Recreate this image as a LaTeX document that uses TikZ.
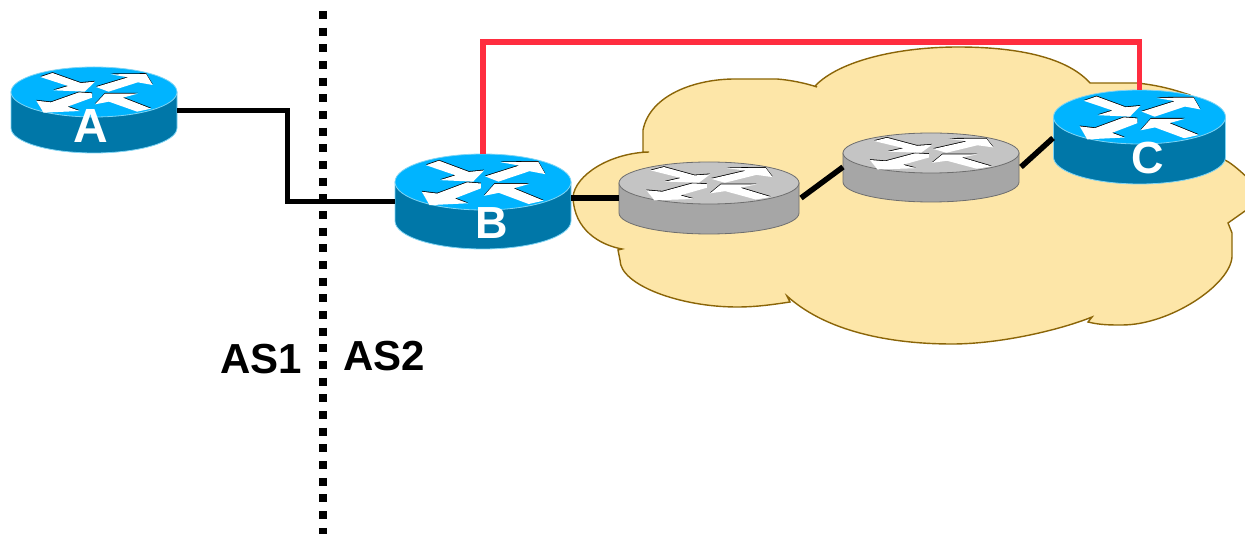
\documentclass[tikz,border=0pt]{standalone}
\usepackage{fontspec}
\setmainfont{Liberation Sans}
\definecolor{bluetop}{HTML}{00B4FF}
\definecolor{blueside}{HTML}{0077A8}
\definecolor{blueedge}{HTML}{7FD4F4}
\definecolor{graytop}{HTML}{C4C4C4}
\definecolor{grayside}{HTML}{A6A6A6}
\definecolor{grayedge}{HTML}{6E6E6E}
\definecolor{cloudfill}{HTML}{FDE6A8}
\definecolor{cloudline}{HTML}{8B6508}
\definecolor{redlink}{HTML}{FF2D3F}
\tikzset{
  routerbox/.style={inner sep=0pt,outer sep=0pt,rectangle},
  link/.style={black,line width=5.5pt},
  wanlink/.style={black,line width=5pt,line join=miter},
  ibgp/.style={redlink,line width=5.4pt,line join=miter},
  boundary/.style={black,line width=8pt,dash pattern=on 8pt off 8.67pt},
  cloudshape/.style={fill=cloudfill,draw=cloudline,line width=1.4pt},
  rlabel/.style={text=white,inner sep=0pt,font=\fontsize{45}{45}\selectfont\bfseries},
  aslabel/.style={text=black,inner sep=0pt,font=\fontsize{42}{42}\selectfont\bfseries}
}
\newcommand{\routerarrows}[1]{%
  \begin{scope}[xscale=.004,yscale=.013333,fill=#1]
    \fill (-162,-45) -- (-125,-57) -- (-40,-27) -- (3,-31) -- (-28,-1) -- (-122,-5) -- (-78,-18) -- cycle;
    \fill (6,-15) -- (103,-44) -- (50,-53) -- (157,-54) -- (177,-21) -- (132,-29) -- (44,-1) -- cycle;
    \fill (-6,4) -- (-45,1) -- (-130,31) -- (-174,26) -- (-152,62) -- (-43,57) -- (-80,44) -- (-6,17) -- cycle;
    \fill (3,37) -- (33,5) -- (132,5) -- (87,17) -- (172,50) -- (130,59) -- (45,29) -- cycle;
  \end{scope}}
% name, cx, cy, rx, ry, h, colour kind
\newcommand{\router}[7]{%
  \node[routerbox,minimum width={2*#4 pt},minimum height={2*#5 pt+#6 pt}] (#1) at (#2,#3+#6/2) {};
  \begin{scope}[shift={(#2,#3)},x=#4pt,y=-#5pt]
    \pgfmathsetmacro{\hh}{#6/#5}
    \filldraw[fill=#7side,draw=#7edge,line width=.8pt] (-1,0) -- (-1,\hh) arc[start angle=180,end angle=0,radius=1] -- (1,0) -- cycle;
    \filldraw[fill=#7top,draw=#7edge,line width=.8pt] (0,0) circle (1);
  \end{scope}
  \begin{scope}[shift={(#2,#3-.8)},x=#4pt,y=-#5pt]\routerarrows{black}\end{scope}
  \begin{scope}[shift={(#2,#3)},x=#4pt,y=-#5pt]\routerarrows{white}\end{scope}
}
\begin{document}
\begin{tikzpicture}[x=1pt,y=-1pt]
\useasboundingbox (0,0) rectangle (1245,534);
\begin{scope}
\clip (0,0) rectangle (1245,534);
\path[cloudshape] (649,152) -- (643,152) -- (643,130)
  .. controls (650,95) and (695,79) .. (735,79) -- (777,79)
  .. controls (790,80) and (805,83) .. (817,87) -- (815,86)
  .. controls (840,60) and (900,47) .. (958,47)
  .. controls (1010,47) and (1065,55) .. (1090,83) -- (1137,83)
  .. controls (1165,86) and (1180,92) .. (1190,95)
  .. controls (1210,120) and (1200,140) .. (1225,160)
  .. controls (1235,165) and (1250,180) .. (1265,195)
  -- (1245,211) -- (1228,223) -- (1232,233) -- (1232,257)
  .. controls (1230,285) and (1170,325) .. (1122,325)
  .. controls (1110,325) and (1100,325) .. (1088,322) -- (1092,317)
  .. controls (1060,330) and (1000,344) .. (952,344)
  .. controls (900,344) and (830,335) .. (787,296) -- (790,302)
  .. controls (770,305) and (755,307) .. (737,307)
  .. controls (680,307) and (620,285) .. (620,260) -- (618,250) -- (622,249)
  .. controls (600,245) and (574,230) .. (573,197)
  .. controls (575,175) and (610,153) .. (649,152) -- cycle;
\end{scope}
\coordinate (dtop) at (323,11);
\coordinate (dbot) at (323,534);
\draw[boundary] (dtop) -- (dbot);
\router{A}{94}{92}{83}{25}{36}{blue}
\router{B}{483}{182}{88}{28}{39}{blue}
\router{G1}{709}{183}{90}{21}{30}{gray}
\router{G2}{931}{153}{88}{20}{29}{gray}
\router{C}{1139.5}{117}{86}{27}{40}{blue}
\coordinate (abA) at (287,111);
\coordinate (abB) at (287,202);
\draw[wanlink] (A.east |- abA) -- (abA) -- (abB) -- (B.west |- abB);
\coordinate (redtop) at (0,42);
\draw[ibgp] (B.north) -- (B.north |- redtop) -- (C.north |- redtop) -- (C.north);
\coordinate (bg1) at (0,198);
\draw[link] (B.east |- bg1) -- (G1.west |- bg1);
\coordinate (g1a) at (801,198);
\coordinate (g2a) at (843,167);
\draw[link] (g1a) -- (g2a);
\coordinate (g2b) at (1021,167);
\coordinate (ca) at (1053,138);
\draw[link] (g2b) -- (ca);
\node[rlabel,font=\fontsize{48}{48}\selectfont\bfseries] (la) at (91,126) {A};
\node[rlabel] (lb) at (492,223) {B};
\node[rlabel] (lc) at (1147.5,158.5) {C};
\node[aslabel] (as1) at (261,359) {AS1};
\node[aslabel] (as2) at (384.5,356) {AS2};
\end{tikzpicture}
\end{document}
